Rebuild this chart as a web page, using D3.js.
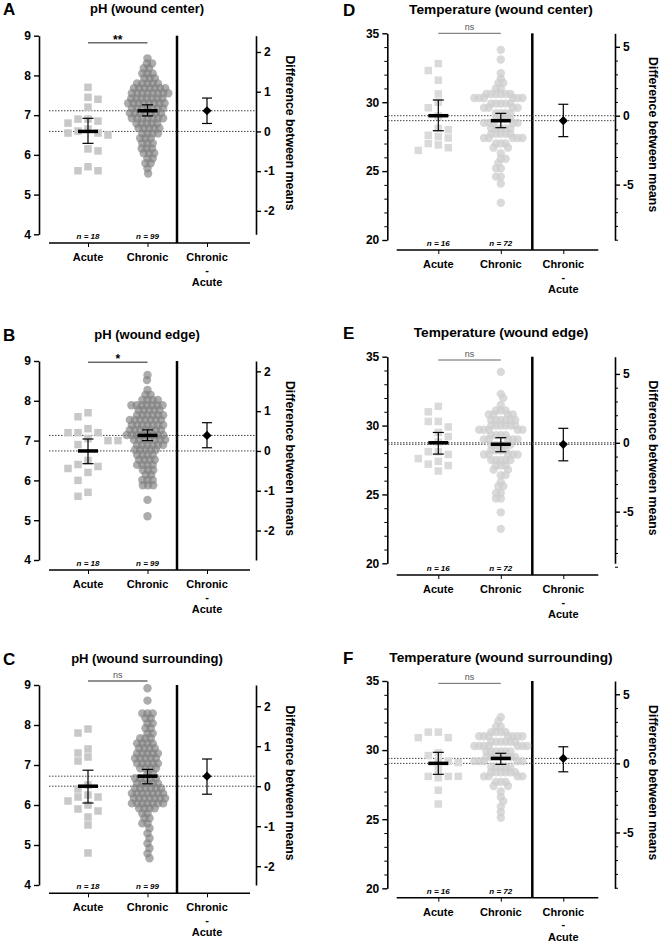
<!DOCTYPE html>
<html>
<head>
<meta charset="utf-8">
<script src="https://cdn.jsdelivr.net/npm/d3@7"></script>
<style>
  body { margin: 0; background: #fff; }
  svg { display: block; font-family: 'Liberation Sans', Arial, sans-serif; }
  .axis text { font-size: 12px; font-weight: bold; fill: #000; }
  .axis path, .axis line { stroke: #000; }
</style>
</head>
<body>
<div id="chart"></div>
<script>
const groups = ['Acute', 'Chronic', 'Chronic - Acute'];
const panelLetters = ['A', 'B', 'C', 'D', 'E', 'F'];
const panelTitles = ['pH (wound center)', 'pH (wound edge)', 'pH (wound surrounding)',
  'Temperature (wound center)', 'Temperature (wound edge)', 'Temperature (wound surrounding)'];

const phTicks = [4, 5, 6, 7, 8, 9];
const tempTicks = [20, 25, 30, 35];
const tempMinorTicks = [21, 22, 23, 24, 26, 27, 28, 29, 31, 32, 33, 34];
const phDiffTicks = [-2, -1, 0, 1, 2];
const tempDiffTicks = [-5, 0, 5];
const tempDiffMinorTicks = [-9, -8, -7, -6, -4, -3, -2, -1, 1, 2, 3, 4];

// individual wounds
const acuteA = [7.7, 7.45, 7.4, 7.2, 6.9, 6.9, 6.85, 6.8, 6.65, 6.6, 6.55, 6.55, 6.5, 6.15, 6.1, 5.7, 5.6, 5.6];
const chronicA = [8.43, 8.3, 8.3, 8.18, 8.18, 8.05, 8.05, 8.05, 7.93, 7.93, 7.93,
  7.8, 7.8, 7.8, 7.8, 7.8, 7.68, 7.68, 7.68, 7.68, 7.68, 7.68, 7.68,
  7.55, 7.55, 7.55, 7.55, 7.55, 7.55, 7.55, 7.55, 7.42, 7.42, 7.42, 7.42, 7.42, 7.42, 7.42,
  7.3, 7.3, 7.3, 7.3, 7.3, 7.3, 7.3, 7.3, 7.17, 7.17, 7.17, 7.17, 7.17, 7.17, 7.17,
  7.05, 7.05, 7.05, 7.05, 7.05, 7.05, 7.05, 6.92, 6.92, 6.92, 6.92, 6.92, 6.92, 6.92,
  6.79, 6.79, 6.79, 6.79, 6.79, 6.67, 6.67, 6.67, 6.67, 6.67, 6.54, 6.54, 6.54, 6.54,
  6.42, 6.42, 6.42, 6.29, 6.29, 6.29, 6.16, 6.16, 6.16, 6.04, 6.04, 6.04,
  5.91, 5.91, 5.79, 5.79, 5.66, 5.53];

const acuteB = [7.7, 7.6, 7.3, 7.2, 7.2, 7.2, 7.05, 7.0, 7.0, 6.9, 6.5, 6.4, 6.35, 6.3, 6.2, 6.0, 5.7, 5.6];
const chronicB = [8.65, 8.52, 8.27, 8.15, 8.15, 8.02, 8.02, 8.02, 8.02,
  7.89, 7.89, 7.89, 7.89, 7.89, 7.89, 7.89, 7.77, 7.77, 7.77, 7.77, 7.77,
  7.64, 7.64, 7.64, 7.64, 7.64, 7.64, 7.52, 7.52, 7.52, 7.52, 7.52, 7.52, 7.52,
  7.39, 7.39, 7.39, 7.39, 7.39, 7.39, 7.39, 7.27, 7.27, 7.27, 7.27, 7.27, 7.27, 7.27,
  7.14, 7.14, 7.14, 7.14, 7.14, 7.14, 7.14, 7.14, 7.02, 7.02, 7.02, 7.02, 7.02, 7.02, 7.02,
  6.89, 6.89, 6.89, 6.89, 6.89, 6.89, 6.77, 6.77, 6.77, 6.77, 6.77,
  6.64, 6.64, 6.64, 6.64, 6.52, 6.52, 6.52, 6.52, 6.39, 6.39, 6.39, 6.39,
  6.26, 6.26, 6.26, 6.14, 6.14, 6.01, 6.01, 6.01, 5.88, 5.88, 5.88, 5.51, 5.1];

const acuteC = [7.9, 7.8, 7.4, 7.3, 7.2, 7.1, 6.5, 6.4, 6.25, 6.2, 6.2, 6.1, 6.0, 5.9, 5.85, 5.7, 5.5, 4.8];
const chronicC = [8.92, 8.61, 8.29, 8.29, 8.29, 8.17, 8.17, 8.04, 8.04, 7.92, 7.92, 7.79, 7.79,
  7.67, 7.67, 7.67, 7.54, 7.54, 7.54, 7.54, 7.42, 7.42, 7.42, 7.42,
  7.29, 7.29, 7.29, 7.29, 7.29, 7.17, 7.17, 7.17, 7.17, 7.17, 7.04, 7.04, 7.04, 7.04, 7.04,
  6.92, 6.92, 6.92, 6.92, 6.79, 6.79, 6.67, 6.67, 6.67, 6.67, 6.67, 6.54, 6.54, 6.54, 6.54, 6.54,
  6.42, 6.42, 6.42, 6.42, 6.42, 6.42, 6.29, 6.29, 6.29, 6.29, 6.29, 6.29, 6.29,
  6.17, 6.17, 6.17, 6.17, 6.17, 6.17, 6.17, 6.04, 6.04, 6.04, 6.04, 6.04, 6.04, 6.04,
  5.92, 5.92, 5.92, 5.92, 5.79, 5.79, 5.67, 5.67, 5.54, 5.54,
  5.42, 5.29, 5.17, 5.04, 4.92, 4.79, 4.67];

const acuteD = [32.8, 30.0, 28.0, 27.5, 27.0, 26.5, 32.3, 31.6, 30.6, 29.0, 27.6, 26.9, 29.6, 28.1, 27.4, 26.7];
const chronicD = [33.8, 33.1, 32.1, 31.7, 31.4, 31.4, 31.0, 31.0,
  30.6, 30.6, 30.6, 30.6, 30.6, 30.6, 30.3, 30.3, 30.3, 30.3, 30.3, 30.3,
  29.9, 29.9, 29.9, 29.9, 29.9, 29.6, 29.6, 29.6, 29.6, 29.2, 29.2, 29.2, 29.2,
  28.8, 28.8, 28.8, 28.8, 28.5, 28.5, 28.5, 28.5, 28.5, 28.1, 28.1, 28.1, 28.1, 28.1,
  27.7, 27.7, 27.7, 27.7, 27.7, 27.4, 27.4, 27.4, 27.4, 27.4, 27.0, 27.0, 27.0,
  26.7, 26.7, 26.3, 25.9, 25.9, 25.6, 25.2, 25.2, 24.6, 24.6, 24.1, 22.7];

const acuteE = [31.4, 31.0, 30.3, 30.3, 29.9, 29.5, 29.2, 28.8, 28.1, 28.1, 27.9, 27.6, 27.4, 27.2, 27.1, 26.7];
const chronicE = [33.9, 32.3, 32.0, 31.5, 31.1, 31.1, 31.1, 30.8, 30.8, 30.8, 30.8,
  30.4, 30.4, 30.4, 30.4, 30.4, 30.4, 30.0, 30.0, 30.0, 30.0, 30.0, 30.0,
  29.7, 29.7, 29.7, 29.7, 29.7, 29.3, 29.3, 29.3, 29.3, 29.0, 29.0, 29.0, 29.0, 29.0,
  28.6, 28.6, 28.6, 28.6, 28.6, 28.2, 28.2, 28.2, 28.2, 27.9, 27.9, 27.9, 27.9, 27.9,
  27.5, 27.5, 27.5, 27.5, 27.5, 27.1, 27.1, 27.1, 26.8, 26.8, 26.4, 26.4,
  25.9, 25.6, 25.6, 25.1, 25.1, 24.7, 24.7, 23.7, 22.5];

const acuteF = [31.3, 31.3, 30.9, 30.9, 29.8, 29.6, 29.2, 29.2, 29.1, 28.6, 28.1, 28.1, 28.1, 28.0, 27.1, 26.1];
const chronicF = [32.4, 32.1, 31.7, 31.7, 31.3, 31.3, 31.3, 31.3,
  31.0, 31.0, 31.0, 31.0, 31.0, 31.0, 31.0, 30.6, 30.6, 30.6, 30.6, 30.6, 30.6,
  30.3, 30.3, 30.3, 30.3, 30.3, 30.3, 30.3, 29.9, 29.9, 29.9, 29.9, 29.9, 29.9,
  29.5, 29.5, 29.5, 29.5, 29.5, 29.5, 29.5, 29.2, 29.2, 29.2, 29.2, 29.2,
  28.8, 28.8, 28.8, 28.8, 28.8, 28.4, 28.4, 28.4, 28.4, 28.4, 28.4,
  28.1, 28.1, 28.1, 28.1, 27.7, 27.7, 27.7, 27.4, 27.4, 27.0, 26.6, 26.3, 25.9, 25.5, 25.1];

const acuteValues = [acuteA, acuteB, acuteC, acuteD, acuteE, acuteF];
const chronicValues = [chronicA, chronicB, chronicC, chronicD, chronicE, chronicF];

// summary statistics as drawn (mean, 95% CI)
const nAcute = [18, 18, 18, 16, 16, 16];
const nChronic = [99, 99, 99, 72, 72, 72];
const meanAcute = [6.59, 6.74, 6.47, 29.02, 28.75, 29.04];
const ciAcuteLow = [6.29, 6.42, 6.05, 27.93, 27.93, 28.25];
const ciAcuteHigh = [6.92, 7.04, 6.87, 30.16, 29.5, 29.84];
const meanChronic = [7.11, 7.13, 6.72, 28.66, 28.64, 29.4];
const ciChronicLow = [6.98, 7.0, 6.53, 28.15, 28.1, 28.97];
const ciChronicHigh = [7.26, 7.27, 6.89, 29.19, 29.12, 29.77];
const diffLow = [0.2, 0.08, -0.2, -1.52, -1.31, -0.61];
const diffHigh = [0.84, 0.71, 0.68, 0.83, 1.05, 1.2];
const sigLabels = ['**', '*', 'ns', 'ns', 'ns', 'ns'];
const sigLevel = [8.82, 8.97, 9.1, 35.0, 34.76, 34.83];

const cols = [
  {
    left: 39, axisStart: 49, axisEnd: 250, sep: 177, right: 256, cats: [88, 207], dotStart: 49,
    rightTitle: 285.5, letterX: 3, titleX: 147, titleGap: 22.5, titleSize: 13,
    domain: [4, 9], ticks: phTicks, minor: [], diffTicks: phDiffTicks, diffMinor: [],
    acuteFill: '#c8c8c8', chronicFill: '#808080', chronicOpacity: 0.65, sigColor: '#222', gap: 5.2,
  },
  {
    left: 387.3, axisStart: 396.7, axisEnd: 598.3, sep: 532.3, right: 615, cats: [438.3, 563.3], dotStart: 388,
    rightTitle: 649, letterX: 343, titleX: 501, titleGap: 19.5, titleSize: 13.7,
    domain: [20, 35], ticks: tempTicks, minor: tempMinorTicks, diffTicks: tempDiffTicks, diffMinor: tempDiffMinorTicks,
    acuteFill: '#dadada', chronicFill: '#cdcdcd', chronicOpacity: 0.75, sigColor: '#666', gap: 4.8,
  },
];
const rows = [
  [{ top: 35.7, bottom: 234.3, base: 243 }, { top: 361, bottom: 560, base: 570 }, { top: 685, bottom: 885, base: 893.3 }],
  [{ top: 33.3, bottom: 240, base: 250 }, { top: 356.7, bottom: 563.3, base: 575 }, { top: 681, bottom: 888.3, base: 897.7 }],
];

// greedy beeswarm: keeps y on the value, pushes x sideways until free
function swarm(values, y, dx, dy, round) {
  const placed = [];
  let flip = 1;
  values.slice().sort((a, b) => b - a).forEach(v => {
    const py = y(v);
    const spans = placed
      .filter(p => Math.abs(p.y - py) < dy)
      .map(p => {
        const w = round ? Math.sqrt(dx * dx - (p.y - py) ** 2) : dx;
        return [p.x - w, p.x + w];
      });
    const free = [0, ...spans.flat()].filter(c =>
      spans.every(([a, b]) => c <= a + 1e-6 || c >= b - 1e-6));
    free.sort((a, b) => Math.abs(a) - Math.abs(b) || flip * (b - a));
    flip = -flip;
    placed.push({ v, x: free[0], y: py });
  });
  return placed;
}

const svg = d3.select('#chart')
  .append('svg')
  .attr('width', 660)
  .attr('height', 944);

panelLetters.forEach((letter, p) => {
  const c = cols[Math.floor(p / 3)];
  const r = rows[Math.floor(p / 3)][p % 3];
  const g = svg.append('g');

  const y = d3.scaleLinear().domain(c.domain).range([r.bottom, r.top]);
  const yDiff = d3.scaleLinear()
    .domain([c.domain[0] - meanAcute[p], c.domain[1] - meanAcute[p]])
    .range([r.bottom, r.top]);
  const x = d3.scalePoint().domain(groups).range(c.cats);

  // letter + title
  const titleY = r.top - c.titleGap;
  g.append('text')
    .attr('x', c.letterX).attr('y', titleY + 2)
    .attr('font-size', 17).attr('font-weight', 'bold')
    .text(letter);
  g.append('text')
    .attr('x', c.titleX).attr('y', titleY)
    .attr('text-anchor', 'middle')
    .attr('font-size', c.titleSize).attr('font-weight', 'bold')
    .text(panelTitles[p]);

  // left axis
  const axisLeft = g.append('g')
    .attr('class', 'axis')
    .attr('transform', `translate(${c.left},0)`)
    .call(d3.axisLeft(y).tickValues(c.ticks).tickSize(5).tickSizeOuter(0).tickPadding(3).tickFormat(d => String(d)));
  axisLeft.select('.domain').attr('stroke-width', 1.6);
  axisLeft.selectAll('.tick line').attr('stroke-width', 1.4);
  if (c.minor.length) {
    g.append('g')
      .attr('class', 'axis')
      .attr('transform', `translate(${c.left},0)`)
      .call(d3.axisLeft(y).tickValues(c.minor).tickSize(3).tickFormat(''))
      .call(s => s.select('.domain').remove());
  }

  // right axis (difference between means)
  const axisRight = g.append('g')
    .attr('class', 'axis')
    .attr('transform', `translate(${c.right},0)`)
    .call(d3.axisRight(yDiff).tickValues(c.diffTicks).tickSize(5).tickSizeOuter(0).tickPadding(3).tickFormat(d => String(d)));
  axisRight.select('.domain').attr('stroke-width', 1.6);
  axisRight.selectAll('.tick line').attr('stroke-width', 1.4);
  if (c.diffMinor.length) {
    g.append('g')
      .attr('class', 'axis')
      .attr('transform', `translate(${c.right},0)`)
      .call(d3.axisRight(yDiff).tickValues(c.diffMinor).tickSize(3).tickFormat(''))
      .call(s => s.select('.domain').remove());
  }
  g.append('text')
    .attr('transform', `translate(${c.rightTitle},${(r.top + r.bottom) / 2 - 2}) rotate(90)`)
    .attr('text-anchor', 'middle')
    .attr('font-size', 12.3).attr('font-weight', 'bold')
    .text('Difference between means');

  // bottom axis
  g.append('g')
    .attr('class', 'axis')
    .attr('transform', `translate(0,${r.base})`)
    .call(d3.axisBottom(x).tickSize(4).tickFormat(''))
    .call(s => s.select('.domain').remove());
  g.append('line')
    .attr('x1', c.axisStart).attr('x2', c.axisEnd)
    .attr('y1', r.base).attr('y2', r.base)
    .attr('stroke', '#000').attr('stroke-width', 1.6);

  groups.forEach(cat => {
    const lines = cat === 'Chronic - Acute' ? ['Chronic', '-', 'Acute'] : [cat];
    const t = g.append('text')
      .attr('x', x(cat)).attr('y', r.base + 18)
      .attr('text-anchor', 'middle')
      .attr('font-size', 11).attr('font-weight', 'bold');
    lines.forEach((l, i) => {
      t.append('tspan').attr('x', x(cat)).attr('dy', i === 0 ? 0 : 12.5).text(l);
    });
  });

  // separator
  g.append('line')
    .attr('x1', c.sep).attr('x2', c.sep)
    .attr('y1', r.top).attr('y2', r.base)
    .attr('stroke', '#000').attr('stroke-width', 2.5);

  // dotted mean references
  g.selectAll('.ref')
    .data([meanAcute[p], meanChronic[p]])
    .enter()
    .append('line')
    .attr('x1', c.dotStart).attr('x2', c.right)
    .attr('y1', d => y(d)).attr('y2', d => y(d))
    .attr('stroke', '#444').attr('stroke-width', 1)
    .attr('stroke-dasharray', '1.5,1.5');

  // acute squares
  const sq = 7.5;
  g.selectAll('.acute')
    .data(swarm(acuteValues[p], y, 10, 8, false))
    .enter()
    .append('rect')
    .attr('x', d => x('Acute') + d.x - sq / 2)
    .attr('y', d => d.y - sq / 2)
    .attr('width', sq).attr('height', sq)
    .attr('fill', c.acuteFill);

  // chronic circles
  g.selectAll('.chronic')
    .data(swarm(chronicValues[p], y, c.gap, c.gap, true))
    .enter()
    .append('circle')
    .attr('cx', d => x('Chronic') + d.x)
    .attr('cy', d => d.y)
    .attr('r', 4.2)
    .attr('fill', c.chronicFill)
    .attr('fill-opacity', c.chronicOpacity);

  // means + CI
  const stats = [
    { cat: 'Acute', mean: meanAcute[p], lo: ciAcuteLow[p], hi: ciAcuteHigh[p] },
    { cat: 'Chronic', mean: meanChronic[p], lo: ciChronicLow[p], hi: ciChronicHigh[p] },
  ];
  stats.forEach(s => {
    const cx = x(s.cat);
    g.append('line')
      .attr('x1', cx).attr('x2', cx).attr('y1', y(s.lo)).attr('y2', y(s.hi))
      .attr('stroke', '#000').attr('stroke-width', 1.2);
    [s.lo, s.hi].forEach(v => {
      g.append('line')
        .attr('x1', cx - 5.5).attr('x2', cx + 5.5).attr('y1', y(v)).attr('y2', y(v))
        .attr('stroke', '#000').attr('stroke-width', 1.2);
    });
    g.append('line')
      .attr('x1', cx - 10).attr('x2', cx + 10).attr('y1', y(s.mean)).attr('y2', y(s.mean))
      .attr('stroke', '#000').attr('stroke-width', 3.5);
  });

  // difference of means with CI
  const dx = x('Chronic - Acute');
  const diff = meanChronic[p] - meanAcute[p];
  g.append('line')
    .attr('x1', dx).attr('x2', dx).attr('y1', yDiff(diffLow[p])).attr('y2', yDiff(diffHigh[p]))
    .attr('stroke', '#000').attr('stroke-width', 1.2);
  [diffLow[p], diffHigh[p]].forEach(v => {
    g.append('line')
      .attr('x1', dx - 5).attr('x2', dx + 5).attr('y1', yDiff(v)).attr('y2', yDiff(v))
      .attr('stroke', '#000').attr('stroke-width', 1.2);
  });
  g.append('path')
    .attr('d', d3.symbol().type(d3.symbolSquare).size(42)())
    .attr('transform', `translate(${dx},${yDiff(diff)}) rotate(45)`)
    .attr('fill', '#000');

  // n labels
  g.selectAll('.n')
    .data([nAcute[p], nChronic[p]])
    .enter()
    .append('text')
    .attr('x', (d, i) => x(groups[i]))
    .attr('y', r.base - 4)
    .attr('text-anchor', 'middle')
    .attr('font-size', 8).attr('font-weight', 'bold').attr('font-style', 'italic')
    .text(d => `n = ${d}`);

  // significance bar
  const sy = y(sigLevel[p]);
  const isNs = sigLabels[p] === 'ns';
  g.append('line')
    .attr('x1', x('Acute')).attr('x2', x('Chronic'))
    .attr('y1', sy).attr('y2', sy)
    .attr('stroke', c.sigColor).attr('stroke-width', 1);
  g.append('text')
    .attr('x', (x('Acute') + x('Chronic')) / 2)
    .attr('y', isNs ? sy - 3 : sy + 1)
    .attr('text-anchor', 'middle')
    .attr('font-size', isNs ? 9 : 12)
    .attr('font-weight', isNs ? 'normal' : 'bold')
    .attr('fill', isNs ? '#555' : '#000')
    .text(sigLabels[p]);
});
</script>
</body>
</html>
